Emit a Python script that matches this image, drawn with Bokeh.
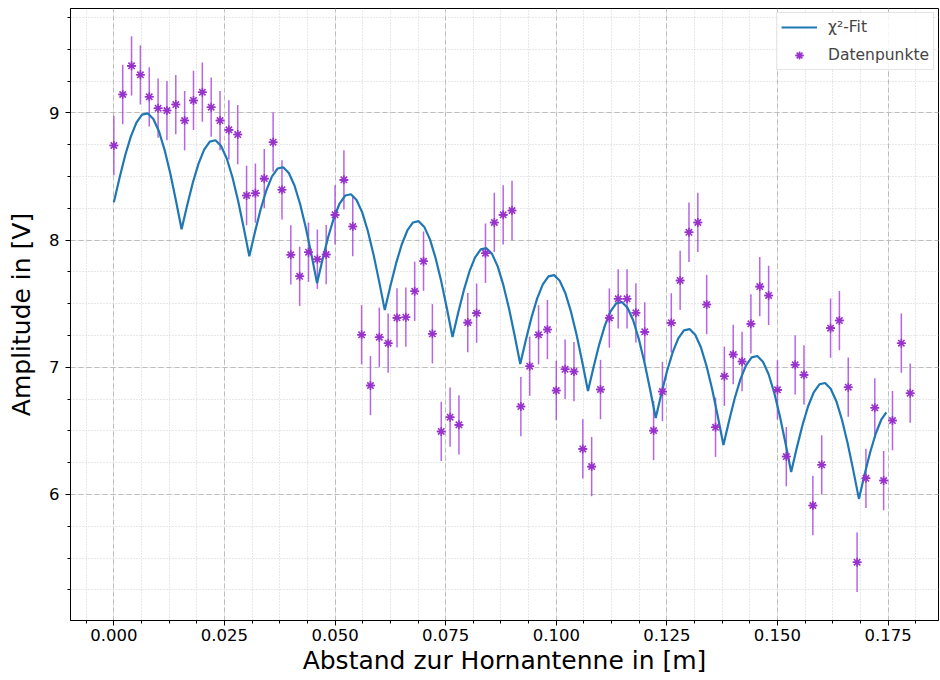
from bokeh.plotting import figure
from bokeh.models import (Range1d, NumeralTickFormatter, SingleIntervalTicker,
                          Legend, LegendItem, ColumnDataSource)
from bokeh.embed import file_html
from bokeh.resources import INLINE

# ---------------- data ----------------
dist_m = [0.000, 0.002, 0.004, 0.006, 0.008, 0.010, 0.012, 0.014, 0.016, 0.018,
          0.020, 0.022, 0.024, 0.026, 0.028, 0.030, 0.032, 0.034, 0.036, 0.038,
          0.040, 0.042, 0.044, 0.046, 0.048, 0.050, 0.052, 0.054, 0.056, 0.058,
          0.060, 0.062, 0.064, 0.066, 0.068, 0.070, 0.072, 0.074, 0.076, 0.078,
          0.080, 0.082, 0.084, 0.086, 0.088, 0.090, 0.092, 0.094, 0.096, 0.098,
          0.100, 0.102, 0.104, 0.106, 0.108, 0.110, 0.112, 0.114, 0.116, 0.118,
          0.120, 0.122, 0.124, 0.126, 0.128, 0.130, 0.132, 0.134, 0.136, 0.138,
          0.140, 0.142, 0.144, 0.146, 0.148, 0.150, 0.152, 0.154, 0.156, 0.158,
          0.160, 0.162, 0.164, 0.166, 0.168, 0.170, 0.172, 0.174, 0.176, 0.178,
          0.180]
amp_V = [8.743, 9.144, 9.369, 9.299, 9.126, 9.036, 9.018, 9.065, 8.939, 9.097,
         9.162, 9.044, 8.939, 8.866, 8.829, 8.350, 8.368, 8.483, 8.769, 8.395,
         7.884, 7.715, 7.904, 7.849, 7.886, 8.198, 8.473, 8.106, 7.255, 6.856,
         7.236, 7.189, 7.388, 7.393, 7.597, 7.833, 7.263, 6.495, 6.607, 6.547,
         7.351, 7.425, 7.896, 8.138, 8.198, 8.232, 6.691, 7.008, 7.255, 7.296,
         6.817, 6.984, 6.966, 6.358, 6.219, 6.825, 7.387, 7.538, 7.538, 7.428,
         7.278, 6.502, 6.809, 7.349, 7.682, 8.061, 8.138, 7.493, 6.528, 6.929,
         7.100, 7.045, 7.341, 7.634, 7.564, 6.822, 6.298, 7.019, 6.940, 5.913,
         6.233, 7.307, 7.367, 6.843, 5.467, 6.127, 6.681, 6.109, 6.581, 7.189,
         6.796]
amp_err_V = 0.233

fit_x = [0.0, 0.00128, 0.00255, 0.00383, 0.0051, 0.00638, 0.00766, 0.00893, 0.01021, 0.01148, 0.01276, 0.01403,
         0.01531, 0.01659, 0.01786, 0.01914, 0.02041, 0.02169, 0.02297, 0.02424, 0.02552, 0.02679, 0.02807, 0.02934,
         0.03062, 0.0319, 0.03317, 0.03445, 0.03572, 0.037, 0.03828, 0.03955, 0.04083, 0.0421, 0.04338, 0.04465,
         0.04593, 0.04721, 0.04848, 0.04976, 0.05103, 0.05231, 0.05359, 0.05486, 0.05614, 0.05741, 0.05869, 0.05996,
         0.06124, 0.06252, 0.06379, 0.06507, 0.06634, 0.06762, 0.0689, 0.07017, 0.07145, 0.07272, 0.074, 0.07527,
         0.07655, 0.07783, 0.0791, 0.08038, 0.08165, 0.08293, 0.08421, 0.08548, 0.08676, 0.08803, 0.08931, 0.09058,
         0.09186, 0.09314, 0.09441, 0.09569, 0.09696, 0.09824, 0.09952, 0.10079, 0.10207, 0.10334, 0.10462, 0.10589,
         0.10717, 0.10845, 0.10972, 0.111, 0.11227, 0.11355, 0.11483, 0.1161, 0.11738, 0.11865, 0.11993, 0.1212,
         0.12248, 0.12376, 0.12503, 0.12631, 0.12758, 0.12886, 0.13014, 0.13141, 0.13269, 0.13396, 0.13524, 0.13651,
         0.13779, 0.13907, 0.14034, 0.14162, 0.14289, 0.14417, 0.14545, 0.14672, 0.148, 0.14927, 0.15055, 0.15182,
         0.1531, 0.15438, 0.15565, 0.15693, 0.1582, 0.15948, 0.16076, 0.16203, 0.16331, 0.16458, 0.16586, 0.16713,
         0.16841, 0.16969, 0.17096, 0.17224, 0.17351, 0.1746]
fit_y = [8.297, 8.488, 8.664, 8.813, 8.923, 8.986, 8.996, 8.951, 8.853, 8.707, 8.523, 8.311,
         8.085, 8.276, 8.452, 8.601, 8.711, 8.774, 8.784, 8.739, 8.641, 8.495, 8.311, 8.099,
         7.873, 8.064, 8.240, 8.389, 8.499, 8.562, 8.572, 8.527, 8.429, 8.283, 8.099, 7.887,
         7.661, 7.852, 8.028, 8.177, 8.287, 8.350, 8.360, 8.315, 8.217, 8.071, 7.887, 7.675,
         7.449, 7.640, 7.816, 7.965, 8.075, 8.138, 8.148, 8.103, 8.005, 7.859, 7.675, 7.463,
         7.237, 7.428, 7.604, 7.753, 7.863, 7.926, 7.936, 7.891, 7.793, 7.647, 7.463, 7.251,
         7.025, 7.216, 7.392, 7.541, 7.651, 7.714, 7.724, 7.679, 7.581, 7.435, 7.251, 7.039,
         6.813, 7.004, 7.180, 7.329, 7.439, 7.502, 7.512, 7.467, 7.369, 7.223, 7.039, 6.827,
         6.601, 6.792, 6.968, 7.117, 7.227, 7.290, 7.300, 7.255, 7.157, 7.011, 6.827, 6.615,
         6.389, 6.580, 6.756, 6.905, 7.015, 7.078, 7.088, 7.043, 6.945, 6.799, 6.615, 6.403,
         6.177, 6.368, 6.544, 6.693, 6.803, 6.866, 6.876, 6.831, 6.733, 6.587, 6.403, 6.191,
         5.965, 6.156, 6.332, 6.481, 6.591, 6.646]

x_label = "Abstand zur Hornantenne in [m]"
y_label = "Amplitude in [V]"
fit_name = "χ²-Fit"
data_name = "Datenpunkte"

# ---------------- figure ----------------
FONT = "DejaVu Sans"
p = figure(width=940, height=680,
           x_range=Range1d(-0.0098, 0.1864), y_range=Range1d(5.009, 9.82),
           output_backend="svg", toolbar_location=None,
           min_border_left=70, min_border_right=2, min_border_top=8,
           min_border_bottom=60)

p.outline_line_color = "black"
p.outline_line_width = 1
p.background_fill_color = "white"

# axes
p.xaxis.ticker = SingleIntervalTicker(interval=0.025, num_minor_ticks=4)
p.yaxis.ticker = SingleIntervalTicker(interval=1, num_minor_ticks=4)
p.xaxis.formatter = NumeralTickFormatter(format="0.000")
for ax in (p.xaxis, p.yaxis):
    ax.axis_line_color = "black"
    ax.major_tick_line_color = "black"
    ax.minor_tick_line_color = "black"
    ax.major_tick_in = 0
    ax.major_tick_out = 5
    ax.minor_tick_in = 0
    ax.minor_tick_out = 3
    ax.major_label_text_font = FONT
    ax.major_label_text_font_size = "16.5px"
    ax.major_label_text_color = "black"
    ax.axis_label_text_font = FONT
    ax.axis_label_text_font_size = "25px"
    ax.axis_label_text_font_style = "normal"
    ax.axis_label_text_color = "black"
p.xaxis.major_label_standoff = 3
p.yaxis.major_label_standoff = 6
p.xaxis.axis_label = x_label
p.yaxis.axis_label = y_label
p.xaxis.axis_label_standoff = 2
p.yaxis.axis_label_standoff = 10

# grid
for g in (p.xgrid, p.ygrid):
    g.grid_line_color = "#bdbdbd"
    g.grid_line_dash = "5 3"
    g.grid_line_width = 1
    g.minor_grid_line_color = "#d0d0d0"
    g.minor_grid_line_dash = "1 2"
    g.minor_grid_line_width = 1

# data
lower = [v - amp_err_V for v in amp_V]
upper = [v + amp_err_V for v in amp_V]
src = ColumnDataSource(dict(x=dist_m, y=amp_V, lo=lower, hi=upper))

ERR_COLOR = "#a94be0"
MK_COLOR = "#9932cc"
err_r = p.segment(x0="x", y0="lo", x1="x", y1="hi", source=src,
                  line_color=ERR_COLOR, line_width=1.5, line_alpha=0.85)
fit_r = p.line(fit_x, fit_y, line_color="#1f77b4", line_width=2.2)
m1 = p.scatter(x="x", y="y", source=src, marker="asterisk", size=9,
               line_color=MK_COLOR, line_width=1.6)
m2 = p.scatter(x="x", y="y", source=src, marker="dash", size=8,
               line_color=MK_COLOR, line_width=1.6)

legend = Legend(items=[LegendItem(label=fit_name, renderers=[fit_r]),
                       LegendItem(label=data_name, renderers=[m1, m2])],
                location="top_right")
legend.label_text_font = FONT
legend.label_text_font_size = "15.5px"
legend.border_line_color = "#cccccc"
legend.border_line_width = 1
legend.background_fill_alpha = 0.85
legend.glyph_width = 36
legend.glyph_height = 20
legend.spacing = 8
legend.padding = 4
legend.margin = 4
legend.label_standoff = 11
p.add_layout(legend)

open("out.html", "w").write(file_html(p, INLINE))
